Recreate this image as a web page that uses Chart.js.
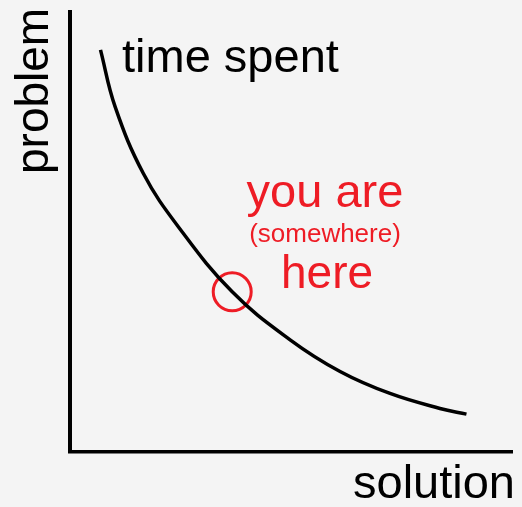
<!DOCTYPE html>
<html>
<head>
<meta charset="utf-8">
<script src="https://cdn.jsdelivr.net/npm/chart.js@4/dist/chart.umd.min.js"></script>
<style>
    html, body { margin: 0; padding: 0; background: #f4f4f4; overflow: hidden; }
    canvas { display: block; }
</style>
</head>
<body>
<canvas id="myChart" width="522" height="507"></canvas>
<script>
// curve (solution on x, problem on y, 0..100)
const curveX = [6.9, 10.2, 16.6, 24.5, 36.7, 49.8, 61.1, 72.4, 83.7, 89.7];
const curveY = [91.4, 78.5, 63.3, 51.2, 36.4, 25.5, 18.3, 13.3, 9.9, 8.6];

// the "you are here" spot
const hereX = [36.7];
const hereY = [36.4];

const axisLabels = ["solution", "problem"];
const curveLabel = "time spent";
const hereLines = ["you are", "(somewhere)", "here"];

const RED = "#ee1c25";
const FONT = "'Liberation Sans', Arial, sans-serif";

// texts drawn on top of the chart
const labelsPlugin = {
    id: "labels",
    afterDraw(chart) {
        const c = chart.ctx;
        const area = chart.chartArea;
        c.save();
        c.textBaseline = "alphabetic";

        c.fillStyle = "#000";
        c.font = "47px " + FONT;
        c.textAlign = "left";
        c.fillText(curveLabel, 122, 72);

        c.textAlign = "right";
        c.fillText(axisLabels[0], area.right + 3, 498);

        c.save();
        c.translate(48, 174);
        c.rotate(-Math.PI / 2);
        c.textAlign = "left";
        c.font = "46px " + FONT;
        c.fillText(axisLabels[1], 0, 0);
        c.restore();

        c.fillStyle = RED;
        c.textAlign = "center";
        c.font = "47px " + FONT;
        c.fillText(hereLines[0], 325, 207);
        c.font = "26px " + FONT;
        c.fillText(hereLines[1], 325, 242);
        c.font = "46px " + FONT;
        c.fillText(hereLines[2], 327, 288);
        c.restore();
    }
};

const ctx = document.getElementById("myChart");
new Chart(ctx, {
    type: "scatter",
    data: {
        datasets: [
            {
                label: curveLabel,
                data: curveX.map((x, i) => ({ x: x, y: curveY[i] })),
                showLine: true,
                borderColor: "#000",
                borderWidth: 3.5,
                pointRadius: 0,
                tension: 0.4,
                fill: false,
            },
            {
                label: "here",
                data: hereX.map((x, i) => ({ x: x, y: hereY[i] })),
                pointStyle: "circle",
                pointRadius: 19,
                borderColor: RED,
                borderWidth: 3,
                backgroundColor: "rgba(0,0,0,0)",
            },
        ],
    },
    options: {
        responsive: false,
        animation: false,
        layout: {
            autoPadding: false,
            padding: { left: 70, top: 12, right: 10, bottom: 55 },
        },
        plugins: {
            legend: { display: false },
            tooltip: { enabled: false },
        },
        scales: {
            x: {
                type: "linear",
                min: 0,
                max: 100,
                ticks: { display: false },
                grid: { display: false },
                border: { display: true, color: "#000", width: 3.5 },
                afterFit: (scale) => { scale.height = 0; },
            },
            y: {
                type: "linear",
                min: 0,
                max: 100,
                ticks: { display: false },
                grid: { display: false },
                border: { display: true, color: "#000", width: 4 },
                afterFit: (scale) => { scale.width = 0; },
            },
        },
    },
    plugins: [labelsPlugin],
});
</script>
</body>
</html>
